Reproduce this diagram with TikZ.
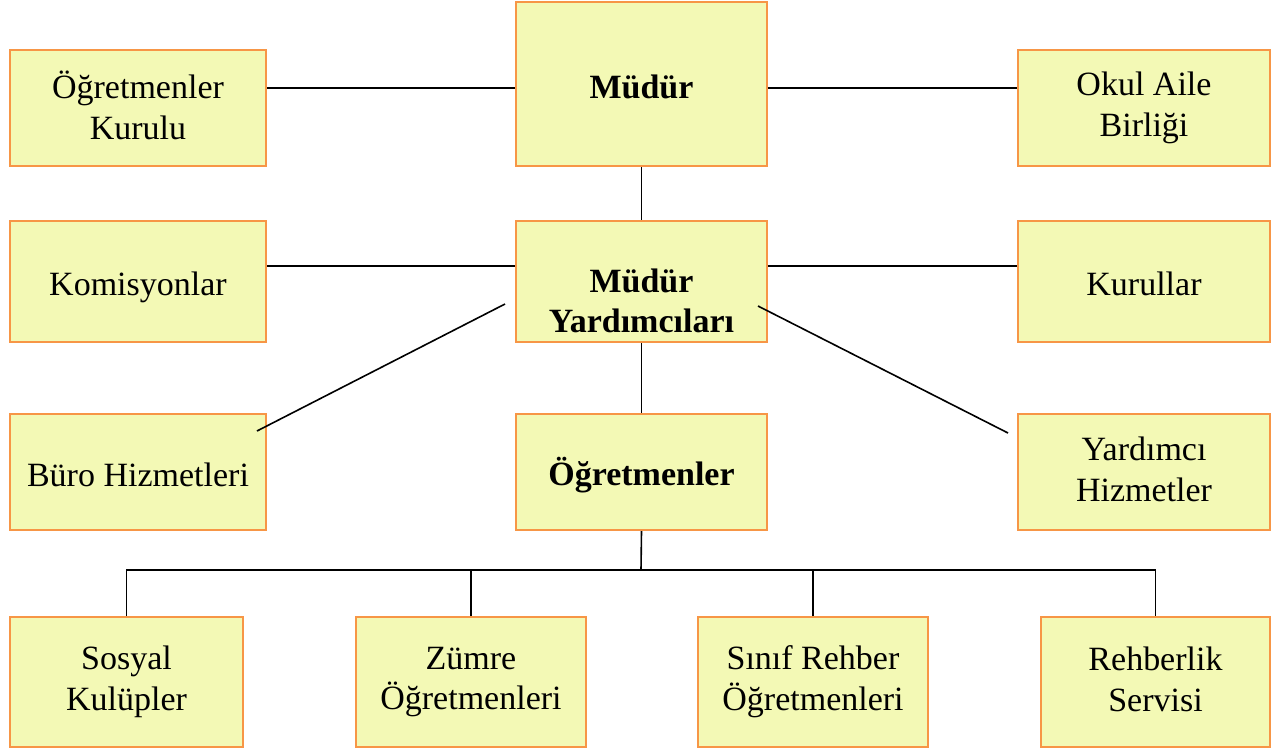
\documentclass[tikz,border=0pt]{standalone}
\usepackage{fontspec}
\setmainfont{Liberation Serif}
\usetikzlibrary{positioning}

\definecolor{boxfill}{HTML}{F3F9B5}
\definecolor{boxline}{HTML}{F79646}

\newcommand\boxstrut{\rule[-4.65pt]{0pt}{30.5pt}}

\tikzset{
  unit/.style={draw=boxline, fill=boxfill, line width=1.5pt, align=center,
    inner sep=0pt, font=\fontsize{25.5}{30.5}\selectfont,
    execute at begin node=\boxstrut, execute at end node=\boxstrut},
  wide/.style={unit, minimum width=189pt, minimum height=87pt},
  head/.style={unit, minimum width=188pt, font=\fontsize{25.5}{30.5}\selectfont\bfseries},
  leaf/.style={unit, minimum width=172pt, minimum height=97.5pt},
  link/.style={line width=1.2pt}
}

\begin{document}
\begin{tikzpicture}[x=0.75pt, y=-0.75pt]
  \useasboundingbox (0,0) rectangle (1278,751);

  % top row
  \node[head, minimum height=123pt] (mudur) at (641.5,84) {Müdür};
  \node[wide, minimum width=192pt] (kurulu) at (138,108) {Öğretmenler\\Kurulu};
  \node[wide] (aile) at (1144,108) {Okul Aile\\Birliği};

  % second row
  \node[head, minimum height=91pt] (yrd) at (641.5,281.5) {\rule{0pt}{51pt}Müdür\\Yardımcıları};
  \node[wide, minimum width=192pt, minimum height=91pt] (komisyon) at (138,281.5) {Komisyonlar};
  \node[wide, minimum height=91pt] (kurullar) at (1144,281.5) {Kurullar};

  % third row
  \node[head, minimum height=87pt] (ogretmen) at (641.5,472) {Öğretmenler};
  \node[wide, minimum width=192pt] (buro) at (138,472) {Büro Hizmetleri};
  \node[wide] (yardimci) at (1144,472) {Yardımcı\\Hizmetler};

  % bottom row
  \node[leaf, minimum width=175pt] (sosyal) at (126.5,682) {Sosyal\\Kulüpler};
  \node[leaf] (zumre) at (471,682) {Zümre\\Öğretmenleri};
  \node[leaf] (sinif) at (813,682) {Sınıf Rehber\\Öğretmenleri};
  \node[leaf] (rehber) at (1155.5,682) {Rehberlik\\Servisi};

  \coordinate (dl1) at (505,304);
  \coordinate (dl2) at (257,431);
  \coordinate (dr1) at (758,306);
  \coordinate (dr2) at (1008,433);
  \coordinate (bus) at (641,570);

  \draw[link] (mudur.west |- 0,88) -- (kurulu.east |- 0,88);
  \draw[link] (mudur.east |- 0,88) -- (aile.west |- 0,88);
  \draw[link] (mudur.south) -- (yrd.north);
  \draw[link] (yrd.west |- 0,266) -- (komisyon.east |- 0,266);
  \draw[link] (yrd.east |- 0,266) -- (kurullar.west |- 0,266);
  \draw[link] (dl1) -- (dl2);
  \draw[link] (dr1) -- (dr2);
  \draw[link] (yrd.south) -- (ogretmen.north);
  \draw[link] (ogretmen.south) -- (bus);
  \draw[link] (sosyal.north) -- (sosyal.north |- bus) -- (rehber.north |- bus) -- (rehber.north);
  \draw[link] (zumre.north) -- (zumre.north |- bus);
  \draw[link] (sinif.north) -- (sinif.north |- bus);
\end{tikzpicture}
\end{document}
